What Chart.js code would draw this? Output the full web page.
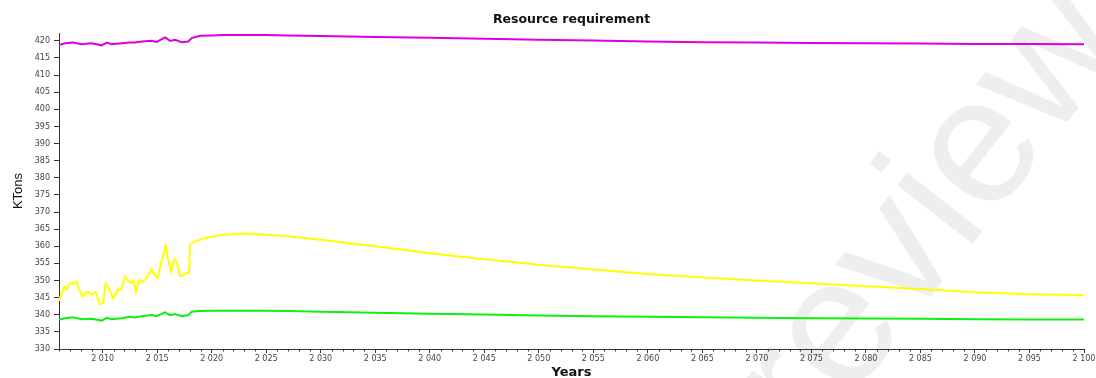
<!DOCTYPE html>
<html>
<head>
<meta charset="utf-8">
<script src="https://cdn.jsdelivr.net/npm/chart.js@4.4.1/dist/chart.umd.min.js"></script>
<style>
  html, body { margin: 0; padding: 0; background: #ffffff; }
  #wrap { width: 1096px; height: 378px; }
</style>
</head>
<body>
<div id="wrap"><canvas id="chart" width="1096" height="378"></canvas></div>
<script>
// Yellow series, observed period (irregular sampling)
const yellowYears = [2006.00, 2006.25, 2006.49, 2006.71, 2007.01, 2007.22, 2007.62, 2007.83,
  2008.14, 2008.45, 2008.69, 2009.00, 2009.37, 2009.76, 2010.06, 2010.28, 2010.52, 2010.98,
  2011.39, 2011.69, 2012.06, 2012.30, 2012.60, 2012.85, 2013.06, 2013.36, 2013.67, 2013.98,
  2014.44, 2014.90, 2015.05, 2015.36, 2015.79, 2016.03, 2016.28, 2016.58, 2016.80, 2017.10,
  2017.40, 2017.72, 2017.93, 2018.02, 2018.48];
const yellowKT = [344.1, 346.3, 348.2, 347.4, 349.2, 349.0, 349.7, 347.7,
  345.3, 346.5, 346.6, 345.8, 346.7, 343.1, 343.4, 349.2, 348.0, 344.8,
  347.4, 347.2, 351.1, 350.2, 349.3, 350.0, 346.7, 350.2, 349.7, 350.4,
  353.3, 351.1, 350.7, 355.0, 360.1, 356.0, 352.6, 356.2, 355.5, 351.3,
  351.6, 352.3, 352.1, 360.4, 361.4];

// Green and magenta series, observed period
const baseYears = [2006.00, 2006.55, 2007.28, 2008.08, 2009.00, 2009.92, 2010.38, 2010.83,
  2011.75, 2012.50, 2012.97, 2013.59, 2014.50, 2014.96, 2015.73, 2016.19, 2016.64, 2017.26,
  2017.86, 2018.17, 2018.60];
const greenKT = [338.5, 339.0, 339.3, 338.7, 338.8, 338.3, 339.1, 338.7,
  339.0, 339.4, 339.2, 339.6, 339.9, 339.6, 340.7, 339.9, 340.2, 339.6,
  339.9, 340.9, 341.0];
const magentaKT = [418.8, 419.3, 419.5, 419.0, 419.3, 418.7, 419.5, 419.0,
  419.3, 419.5, 419.5, 419.8, 420.0, 419.7, 421.0, 420.0, 420.3, 419.6,
  419.8, 420.8, 421.2];

// Projection period, shared years
const projYears = [2019, 2020, 2021, 2022, 2023, 2024, 2025, 2027, 2030, 2035, 2040, 2045,
  2050, 2055, 2060, 2065, 2070, 2075, 2080, 2085, 2090, 2095, 2100];
const yellowProj = [362.0, 362.9, 363.3, 363.6, 363.7, 363.6, 363.4, 362.9, 361.9, 360.0, 358.0, 356.2,
  354.6, 353.2, 351.9, 350.9, 350.0, 349.2, 348.3, 347.5, 346.6, 346.0, 345.7];
const greenProj = [341.1, 341.2, 341.2, 341.2, 341.2, 341.2, 341.2, 341.1, 340.9, 340.6, 340.3, 340.1,
  339.8, 339.6, 339.4, 339.3, 339.1, 339.0, 338.9, 338.8, 338.7, 338.6, 338.6];
const magentaProj = [421.5, 421.6, 421.7, 421.7, 421.7, 421.7, 421.7, 421.6, 421.4, 421.1, 420.9, 420.6,
  420.3, 420.1, 419.8, 419.6, 419.5, 419.4, 419.3, 419.2, 419.1, 419.1, 419.0];

const chartTitle = 'Resource requirement';
const xAxisTitle = 'Years';
const yAxisTitle = 'KTons';
const watermarkText = 'Preview';

function toPoints(xs, ys) {
  return xs.map((x, i) => ({ x: x, y: ys[i] }));
}

// "2010" -> "2 010"
function spacedYear(v) {
  const s = String(Math.round(v));
  return s.length > 3 ? s.slice(0, s.length - 3) + ' ' + s.slice(-3) : s;
}

// Faint diagonal watermark underneath axes and lines
const watermarkPlugin = {
  id: 'watermark',
  beforeDraw(chart) {
    const ctx = chart.ctx;
    ctx.save();
    ctx.translate(895, 262);
    ctx.rotate(-52 * Math.PI / 180);
    ctx.font = '180px "Liberation Sans", Arial, sans-serif';
    ctx.fillStyle = '#eeeeee';
    ctx.textAlign = 'center';
    ctx.textBaseline = 'middle';
    ctx.fillText(watermarkText, 0, 0);
    ctx.restore();
  }
};

// Title centred over the plot area
const plotTitlePlugin = {
  id: 'plotTitle',
  afterDraw(chart) {
    const { ctx, chartArea } = chart;
    ctx.save();
    ctx.font = 'bold 12.5px "DejaVu Sans", sans-serif';
    ctx.fillStyle = '#111111';
    ctx.textAlign = 'center';
    ctx.textBaseline = 'middle';
    ctx.fillText(chartTitle, (chartArea.left + chartArea.right) / 2, 19.5);
    ctx.restore();
  }
};

// Short yearly minor ticks below the x axis
const minorTickPlugin = {
  id: 'minorTicks',
  afterDraw(chart) {
    const xs = chart.scales.x;
    const ctx = chart.ctx;
    const y0 = chart.chartArea.bottom;
    ctx.save();
    ctx.strokeStyle = '#333333';
    ctx.lineWidth = 1;
    ctx.beginPath();
    for (let yr = Math.ceil(xs.min); yr <= xs.max; yr++) {
      if (yr % 5 === 0) continue;
      const px = Math.round(xs.getPixelForValue(yr)) + 0.5;
      ctx.moveTo(px, y0);
      ctx.lineTo(px, y0 + 2.5);
    }
    ctx.stroke();
    ctx.restore();
  }
};

const lineStyle = { borderWidth: 2, pointRadius: 0, pointHoverRadius: 0, tension: 0, fill: false };

new Chart(document.getElementById('chart'), {
  type: 'line',
  data: {
    datasets: [
      Object.assign({
        label: 'Magenta',
        data: toPoints(baseYears, magentaKT).concat(toPoints(projYears, magentaProj)),
        borderColor: '#dd00dd'
      }, lineStyle),
      Object.assign({
        label: 'Yellow',
        data: toPoints(yellowYears, yellowKT).concat(toPoints(projYears, yellowProj)),
        borderColor: '#ffff00'
      }, lineStyle),
      Object.assign({
        label: 'Green',
        data: toPoints(baseYears, greenKT).concat(toPoints(projYears, greenProj)),
        borderColor: '#11ee11'
      }, lineStyle)
    ]
  },
  options: {
    responsive: false,
    animation: false,
    events: [],
    layout: { padding: { top: 33, right: 12, left: 0, bottom: 0 } },
    plugins: {
      legend: { display: false },
      tooltip: { enabled: false },
      title: { display: false }
    },
    scales: {
      x: {
        type: 'linear',
        min: 2006,
        max: 2100,
        afterFit(scale) {
          scale.height = 29;
          scale.paddingLeft = 0;
          scale.paddingRight = 0;
        },
        border: { display: true, color: '#333333', width: 1 },
        grid: { display: true, drawOnChartArea: false, drawTicks: true, tickLength: 4, color: '#333333' },
        ticks: {
          stepSize: 5,
          autoSkip: false,
          maxRotation: 0,
          includeBounds: false,
          padding: 1,
          color: '#444444',
          font: { family: '"DejaVu Sans", sans-serif', size: 8 },
          callback: (v) => (v % 5 === 0 ? spacedYear(v) : '')
        },
        title: {
          display: true,
          text: xAxisTitle,
          color: '#111111',
          font: { family: '"DejaVu Sans", sans-serif', size: 13, weight: 'bold', lineHeight: 0.8 },
          padding: { top: 0, bottom: 0 }
        }
      },
      y: {
        type: 'linear',
        min: 330,
        max: 422.3,
        afterFit(scale) {
          scale.width = 59;
        },
        border: { display: true, color: '#333333', width: 1 },
        grid: { display: true, drawOnChartArea: false, drawTicks: true, tickLength: 5, color: '#333333' },
        ticks: {
          stepSize: 5,
          includeBounds: false,
          autoSkip: false,
          padding: 4,
          color: '#444444',
          font: { family: '"DejaVu Sans", sans-serif', size: 8 }
        },
        title: {
          display: true,
          text: yAxisTitle,
          color: '#111111',
          font: { family: '"Liberation Sans Narrow", "Liberation Sans", sans-serif', size: 13 },
          padding: { top: 10.5, bottom: 0 }
        }
      }
    }
  },
  plugins: [watermarkPlugin, plotTitlePlugin, minorTickPlugin]
});
</script>
</body>
</html>
